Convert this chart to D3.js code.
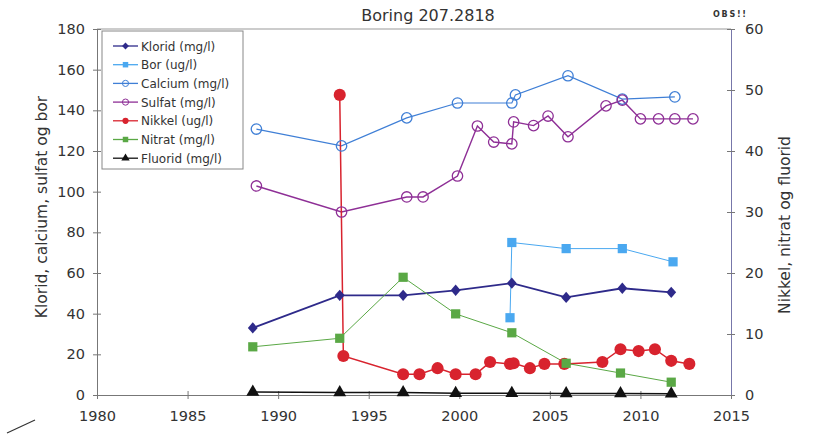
<!DOCTYPE html>
<html>
<head>
<meta charset="utf-8">
<script src="https://cdn.jsdelivr.net/npm/d3@7"></script>
<style>
  body { margin: 0; background: #fff; }
  text { font-family: "DejaVu Sans", Verdana, sans-serif; fill: #333; }
</style>
</head>
<body>
<div id="chart"></div>
<script>
var width = 821,
    height = 436;

// data (year as decimal)
var kloridYears = [1988.6, 1993.4, 1996.9, 1999.8, 2002.9, 2005.9, 2009.0, 2011.7];
var kloridValues = [33, 49, 49, 51.5, 55, 48, 52.5, 50.5];

var borYears = [2002.8, 2002.9, 2005.9, 2009.0, 2011.8];
var borValues = [38, 75, 72, 72, 65.5];

var calciumYears = [1988.8, 1993.5, 1997.1, 1999.9, 2002.9, 2003.1, 2006.0, 2009.0, 2011.9];
var calciumValues = [130.8, 122.5, 136.3, 143.6, 143.6, 147.6, 157, 145.5, 146.6];

var sulfatYears = [1988.8, 1993.5, 1997.1, 1998.0, 1999.9, 2001.0, 2001.9, 2002.9, 2003.0, 2004.1,
                   2004.9, 2006.0, 2008.1, 2009.0, 2010.0, 2011.0, 2011.9, 2012.9];
var sulfatValues = [102.8, 90, 97.4, 97.4, 107.7, 132.3, 124.4, 123.5, 134.3, 132.5,
                    137.2, 127, 142.2, 145, 135.8, 135.8, 135.8, 135.8];

var nikkelYears = [1993.4, 1993.6, 1996.9, 1997.8, 1998.8, 1999.8, 2000.9, 2001.7, 2002.8, 2003.0,
                   2003.9, 2004.7, 2005.8, 2007.9, 2008.9, 2009.9, 2010.8, 2011.7, 2012.7];
var nikkelValues = [49.2, 6.4, 3.4, 3.4, 4.4, 3.4, 3.4, 5.4, 5.1, 5.2,
                    4.4, 5.1, 5.1, 5.4, 7.5, 7.2, 7.5, 5.6, 5.1];

var nitratYears = [1988.6, 1993.4, 1996.9, 1999.8, 2002.9, 2005.9, 2008.9, 2011.7];
var nitratValues = [7.9, 9.3, 19.3, 13.3, 10.2, 5.2, 3.6, 2.1];

var fluoridYears = [1988.6, 1993.4, 1996.9, 1999.8, 2002.9, 2005.9, 2008.9, 2011.7];
var fluoridValues = [0.5, 0.4, 0.4, 0.3, 0.3, 0.25, 0.25, 0.2];

var xTicks = [1980, 1985, 1990, 1995, 2000, 2005, 2010, 2015];
var leftTicks = [0, 20, 40, 60, 80, 100, 120, 140, 160, 180];
var rightTicks = [0, 10, 20, 30, 40, 50, 60];

var svg = d3.select("#chart").append("svg")
    .attr("width", width)
    .attr("height", height);

var x = d3.scaleLinear().domain([1980, 2015]).range([97, 731]);
var yL = d3.scaleLinear().domain([0, 180]).range([395, 29]);
var yR = d3.scaleLinear().domain([0, 60]).range([395, 29]);

// frame: top border
svg.append("line")
    .attr("x1", 97).attr("x2", 731)
    .attr("y1", 29).attr("y2", 29)
    .attr("stroke", "#999").attr("stroke-width", 1);

// axes
var tickFont = "14.5px";

var gx = svg.append("g")
    .attr("transform", "translate(0,395)")
    .call(d3.axisBottom(x).tickValues(xTicks).tickFormat(d3.format("d")).tickSize(4).tickPadding(12));

var gl = svg.append("g")
    .attr("transform", "translate(97,0)")
    .call(d3.axisLeft(yL).tickValues(leftTicks).tickSize(4).tickPadding(8));

var gr = svg.append("g")
    .attr("transform", "translate(731,0)")
    .call(d3.axisRight(yR).tickValues(rightTicks).tickSize(4).tickPadding(10));

[gx, gl, gr].forEach(function(g) {
  g.select(".domain").attr("stroke", "#777");
  g.selectAll(".tick line").attr("stroke", "#777");
  g.selectAll(".tick text").style("font-size", tickFont).attr("fill", "#333");
});
gr.select(".domain").attr("stroke", "#7777aa");
// cross ticks like the original
gl.selectAll(".tick line").attr("x1", -4).attr("x2", 4);
gr.selectAll(".tick line").attr("x1", -4).attr("x2", 4);
gx.selectAll(".tick line").attr("y1", -4).attr("y2", 4);

// title
svg.append("text")
    .attr("x", 428).attr("y", 21)
    .attr("text-anchor", "middle")
    .style("font-size", "16px")
    .text("Boring 207.2818");

svg.append("text")
    .attr("x", 713).attr("y", 17)
    .attr("textLength", 33)
    .style("font-size", "8px")
    .style("font-weight", "bold")
    .text("OBS!!");

// axis titles
svg.append("text")
    .attr("transform", "translate(47,207) rotate(-90)")
    .attr("text-anchor", "middle")
    .style("font-size", "15.5px")
    .text("Klorid, calcium, sulfat og bor");

svg.append("text")
    .attr("transform", "translate(790,225) rotate(-90)")
    .attr("text-anchor", "middle")
    .style("font-size", "15.5px")
    .text("Nikkel, nitrat og fluorid");

// series
var series = [
  {name: "Klorid (mg/l)", years: kloridYears, values: kloridValues, y: yL, color: "#2e2a8a", lw: 1.8, marker: "diamond"},
  {name: "Bor (ug/l)", years: borYears, values: borValues, y: yL, color: "#4aa8f0", lw: 1, marker: "square"},
  {name: "Calcium (mg/l)", years: calciumYears, values: calciumValues, y: yL, color: "#3f7fd6", lw: 1.2, marker: "circle"},
  {name: "Sulfat (mg/l)", years: sulfatYears, values: sulfatValues, y: yL, color: "#8e2f96", lw: 1.4, marker: "circle"},
  {name: "Nikkel (ug/l)", years: nikkelYears, values: nikkelValues, y: yR, color: "#d8232e", lw: 1.5, marker: "dot"},
  {name: "Nitrat (mg/l)", years: nitratYears, values: nitratValues, y: yR, color: "#5aa845", lw: 1, marker: "square"},
  {name: "Fluorid (mg/l)", years: fluoridYears, values: fluoridValues, y: yR, color: "#111", lw: 1.5, marker: "triangle"}
];

function symbolType(type) {
  if (type == "diamond") return d3.symbolDiamond2;
  if (type == "square") return d3.symbolSquare;
  if (type == "triangle") return d3.symbolTriangle;
  return d3.symbolCircle;
}

function markerSize(type) {
  if (type == "diamond") return 62;
  if (type == "square") return 85;
  if (type == "triangle") return 72;
  if (type == "dot") return 115;
  return 85;
}

function drawMarker(g, s, cx, cy) {
  var p = g.append("path")
      .attr("d", d3.symbol().type(symbolType(s.marker)).size(markerSize(s.marker))())
      .attr("transform", "translate(" + cx + "," + cy + ")");
  if (s.marker == "circle") {
    p.attr("fill", "none").attr("stroke", s.color).attr("stroke-width", 1.3);
  } else if (s.marker == "diamond") {
    p.attr("fill", s.color).attr("transform", "translate(" + cx + "," + cy + ") scale(1,1.15)");
  } else {
    p.attr("fill", s.color);
  }
}

var plot = svg.append("g");

series.forEach(function(s) {
  var pts = s.years.map(function(yr, i) { return [yr, s.values[i]]; });
  var line = d3.line()
      .x(function(d) { return x(d[0]); })
      .y(function(d) { return s.y(d[1]); });
  plot.append("path")
      .datum(pts)
      .attr("d", line)
      .attr("fill", "none")
      .attr("stroke", s.color)
      .attr("stroke-width", s.lw);
});

series.forEach(function(s) {
  var g = plot.append("g");
  s.years.forEach(function(yr, i) {
    drawMarker(g, s, x(yr), s.y(s.values[i]));
  });
});

// legend
var legend = svg.append("g");
legend.append("rect")
    .attr("x", 102).attr("y", 31)
    .attr("width", 141).attr("height", 138)
    .attr("fill", "#fff")
    .attr("stroke", "#888");

series.forEach(function(s, i) {
  var ly = 46 + i * 18.7;
  var lg = legend.append("g");
  lg.append("line")
      .attr("x1", 113).attr("x2", 138)
      .attr("y1", ly).attr("y2", ly)
      .attr("stroke", s.color).attr("stroke-width", 1.3);
  lg.append("path")
      .attr("d", d3.symbol().type(symbolType(s.marker)).size(30)())
      .attr("transform", "translate(125.5," + ly + ")")
      .attr("fill", s.marker == "circle" ? "none" : s.color)
      .attr("stroke", s.marker == "circle" ? s.color : "none");
  lg.append("text")
      .attr("x", 141).attr("y", ly + 4.5)
      .style("font-size", "12px")
      .attr("fill", "#222")
      .text(s.name);
});

// pen mark on the scan
svg.append("line")
    .attr("x1", 7).attr("y1", 433)
    .attr("x2", 35).attr("y2", 420)
    .attr("stroke", "#333").attr("stroke-width", 1.2);
</script>
</body>
</html>
